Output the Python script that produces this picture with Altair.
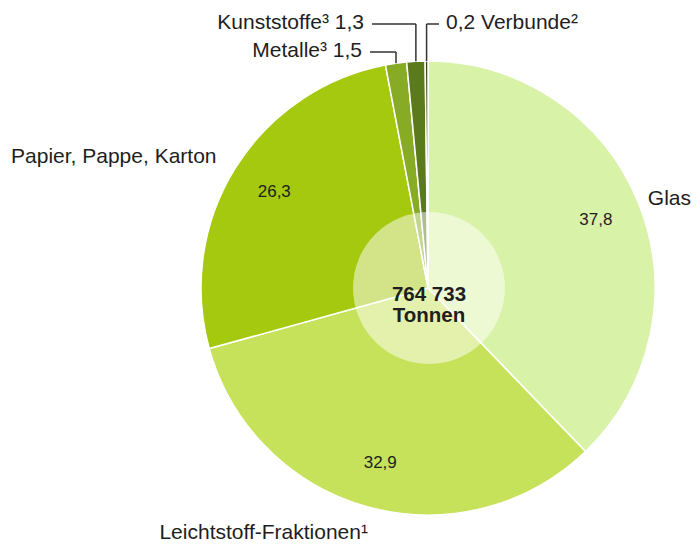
import math
import numpy as np
import pandas as pd
import altair as alt

# ---- data ----
categories = ["Glas", "Leichtstoff-Fraktionen¹", "Papier, Pappe, Karton",
              "Metalle³", "Kunststoffe³", "Verbunde²"]
values = [37.8, 32.9, 26.3, 1.5, 1.3, 0.2]
value_labels = ["37,8", "32,9", "26,3", "1,5", "1,3", "0,2"]
total_lines = ["764 733", "Tonnen"]

# ---- style / layout constants ----
colors = ["#d8f2a7", "#c6e25b", "#a4c90f", "#87ab25", "#5b7a1c", "#33480c"]
FONT = "Liberation Sans"
TXT = "#1e1e1e"
CX, CY, R = 420, 280, 227
R_INNER = 76

df = pd.DataFrame({"cat": categories, "value": values, "label": value_labels,
                   "order": list(range(len(values)))})
df["inner"] = [l if v >= 10 else "" for l, v in zip(value_labels, values)]
df["lab_papier"] = [c if c.startswith("Papier") else "" for c in categories]
df["lab_leicht"] = [c if c.startswith("Leicht") else "" for c in categories]
df["lab_glas"] = [c if c == "Glas" else "" for c in categories]

# leader lines for the small slices, computed from the slice mid-angles
vals = np.array(values)
mid = (np.cumsum(vals) - vals / 2) / vals.sum()
ang = 2 * math.pi * mid
small = {  # category index: (line y, far x end of horizontal, side)
    3: (44, 362, "left"),
    4: (16, 364, "left"),
    5: (16, 431, "right"),
}
segs, texts = [], []
for i, (ly, fx, side) in small.items():
    vx = CX + R * math.sin(ang[i])
    vy = CY - R * math.cos(ang[i])
    segs.append({"x": vx, "y": vy, "x2": vx, "y2": ly})
    segs.append({"x": vx, "y": ly, "x2": fx, "y2": ly})
    if side == "left":
        texts.append({"x": fx - 8, "y": ly - 1, "t": f"{categories[i]} {value_labels[i]}", "side": "left"})
    else:
        texts.append({"x": fx + 7, "y": ly - 1, "t": f"{value_labels[i]} {categories[i]}", "side": "right"})
seg_df = pd.DataFrame(segs)
txt_df = pd.DataFrame(texts)

base = alt.Chart(df).encode(
    theta=alt.Theta("value:Q", stack=True),
    order=alt.Order("order:Q"),
    x=alt.value(CX), y=alt.value(CY),
)

pie = base.mark_arc(outerRadius=R, stroke="white", strokeWidth=1.5).encode(
    color=alt.Color("cat:N", scale=alt.Scale(domain=categories, range=colors), legend=None)
)

inner = alt.Chart(pd.DataFrame({"k": [1]})).mark_arc(
    outerRadius=R_INNER, theta=0, theta2=2 * math.pi, fill="white", fillOpacity=0.5
).encode(x=alt.value(CX + 1), y=alt.value(CY))

center_text = alt.Chart(pd.DataFrame({"k": [1]})).mark_text(
    text=total_lines, font=FONT, fontSize=20.5, fontWeight="bold", color=TXT,
    lineHeight=21, align="center", baseline="middle"
).encode(x=alt.value(CX + 1), y=alt.value(CY + 7))

inner_labels = base.mark_text(radius=181, font=FONT, fontSize=17, color=TXT,
                              baseline="middle").encode(text="inner:N")
papier_label = base.mark_text(radius=249, font=FONT, fontSize=21, color=TXT,
                              align="right", baseline="middle").encode(text="lab_papier:N")
leicht_label = base.mark_text(radius=254, font=FONT, fontSize=21, color=TXT,
                              align="right", baseline="middle", dx=7).encode(text="lab_leicht:N")
glas_label = base.mark_text(radius=237, font=FONT, fontSize=21, color=TXT,
                            align="left", baseline="middle").encode(text="lab_glas:N")

leaders = alt.Chart(seg_df).mark_rule(color="#333333", strokeWidth=1.5).encode(
    x=alt.X("x:Q", scale=None, axis=None), y=alt.Y("y:Q", scale=None, axis=None),
    x2="x2:Q", y2="y2:Q",
)
small_left = alt.Chart(txt_df[txt_df.side == "left"]).mark_text(
    font=FONT, fontSize=21, color=TXT, align="right", baseline="middle"
).encode(x=alt.X("x:Q", scale=None, axis=None), y=alt.Y("y:Q", scale=None, axis=None), text="t:N")
small_right = alt.Chart(txt_df[txt_df.side == "right"]).mark_text(
    font=FONT, fontSize=21, color=TXT, align="left", baseline="middle"
).encode(x=alt.X("x:Q", scale=None, axis=None), y=alt.Y("y:Q", scale=None, axis=None), text="t:N")

chart = alt.layer(
    pie, inner, inner_labels, papier_label, leicht_label, glas_label, center_text,
    leaders, small_left, small_right
).properties(
    width=683, height=536, autosize=alt.AutoSizeParams(type="none"), padding=0,
    background="white"
).configure_view(stroke=None)

chart.save("out.html", embed_options={"renderer": "svg", "actions": False})
